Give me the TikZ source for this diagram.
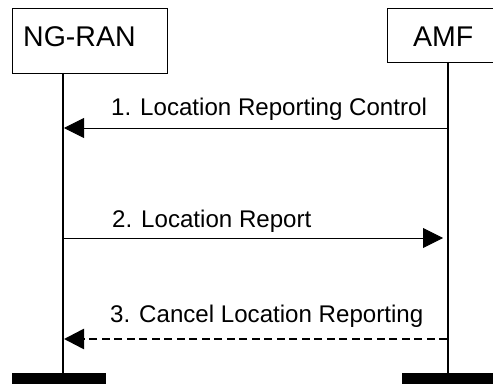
\documentclass[tikz,border=0pt]{standalone}
\usepackage{fontspec}
\setmainfont{Liberation Sans}
\usetikzlibrary{arrows.meta}
\tikzset{
  ebox/.style={draw=black, line width=0.8pt, inner sep=0pt, fill=white},
  ename/.style={inner sep=0pt, font=\fontsize{28.5}{32}\selectfont},
  mlabel/.style={inner sep=0pt, font=\fontsize{24.1}{28}\selectfont},
  life/.style={line width=2pt, black},
  msg/.style={line width=0.9pt, black, -{Triangle[length=20pt,width=20pt]}},
  msgdash/.style={line width=2.6pt, black, dash pattern=on 8pt off 4.5pt, -{Triangle[length=20pt,width=20pt]}},
  endbar/.style={fill=black, draw=none, inner sep=0pt}
}
\begin{document}
\begin{tikzpicture}[x=1pt,y=-1pt]
\useasboundingbox (0,0) rectangle (493,385);
% entity boxes
\node[ebox, minimum width=155pt, minimum height=65pt, anchor=north west] (ran) at (12,8) {};
\node[ename, anchor=base west] (rant) at (23,47) {NG-RAN};
\node[ebox, minimum width=107pt, minimum height=54pt, anchor=north west] (amf) at (387,8) {};
\node[ename, anchor=base west] (amft) at (413,47) {AMF};
% end bars
\node[endbar, minimum width=94pt, minimum height=11pt, anchor=north west] (ranend) at (12,373) {};
\node[endbar, minimum width=92pt, minimum height=11pt, anchor=north west] (amfend) at (402,373) {};
% lifelines
\coordinate (ranTop) at (63,73);
\coordinate (ranBot) at (63,373);
\coordinate (amfTop) at (448,62);
\coordinate (amfBot) at (448,373);
\draw[life] (ranTop) -- (ranBot);
\draw[life] (amfTop) -- (amfBot);
% message end points
\coordinate (m1s) at (448,128);
\coordinate (m1e) at (64,128);
\coordinate (m2s) at (64,238);
\coordinate (m2e) at (443,238);
\coordinate (m3s) at (447,339);
\coordinate (m3e) at (64,339);
\draw[msg] (m1s) -- (m1e);
\draw[msg] (m2s) -- (m2e);
\draw[msgdash] (m3s) -- (m3e);
% labels
\node[mlabel, anchor=base west] (l1) at (111,116) {1. Location Reporting Control};
\node[mlabel, anchor=base west] (l2) at (112,228) {2. Location Report};
\node[mlabel, anchor=base west] (l3) at (110,322) {3. Cancel Location Reporting};
\end{tikzpicture}
\end{document}
